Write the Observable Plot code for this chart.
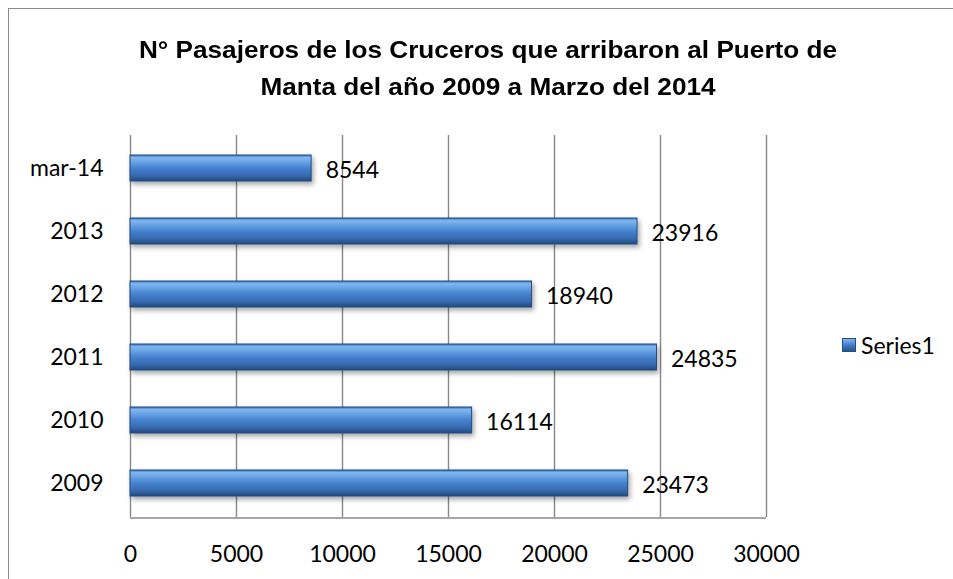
<!DOCTYPE html>
<html><head><meta charset="utf-8">
<script src="https://cdn.jsdelivr.net/npm/d3@7"></script>
<script src="https://cdn.jsdelivr.net/npm/@observablehq/plot@0.6"></script>
<style>
body{margin:0;background:#fff;}
#wrap{position:relative;width:953px;height:579px;overflow:hidden;font-family:Lato,"Open Sans",sans-serif;}
#border{position:absolute;left:8px;top:8px;width:960px;height:600px;border:1.5px solid #8c8c8c;box-sizing:border-box;}
#title{position:absolute;left:88px;width:800px;top:31px;text-align:center;font-family:"Liberation Sans",Arial,sans-serif;font-weight:bold;font-size:24px;line-height:37px;color:#000;transform:scaleX(1.09);transform-origin:400px 0;}
#legend{position:absolute;left:842px;top:331px;font-size:23px;font-family:Lato,sans-serif;display:flex;align-items:center;height:28px;}
#legend span.sw{display:inline-block;width:14px;height:14px;margin-right:5px;background:linear-gradient(180deg,#7fb6ee,#3f7ac4 55%,#27558f);border:1px solid #254e80;box-sizing:border-box;}
#chart{position:absolute;left:0;top:0;}
</style></head>
<body>
<div id="wrap">
<div id="border"></div>
<div id="chart"></div>
<div id="title">N° Pasajeros de los Cruceros que arribaron al Puerto de<br>Manta del año 2009 a Marzo del 2014</div>
<div id="legend"><span class="sw"></span>Series1</div>
</div>
<script>
const categories = ["mar-14","2013","2012","2011","2010","2009"];
const values = [8544, 23916, 18940, 24835, 16114, 23473];
const xTicks = [0,5000,10000,15000,20000,25000,30000];
const data = categories.map((c,i)=>({cat:c, value:values[i]}));

const plot = Plot.plot({
  width: 953, height: 579,
  marginLeft: 130, marginRight: 187, marginTop: 135, marginBottom: 62,
  style: {fontFamily: "Lato, 'Open Sans', sans-serif", fontSize: "23px", background: "transparent", overflow: "visible", color: "#000"},
  x: {domain: [0,30000], ticks: xTicks, label: null, tickSize: 0, tickPadding: 28, tickFormat: d=>String(d)},
  y: {domain: categories, label: null, tickSize: 0, tickPadding: 27, paddingInner: 0.58, paddingOuter: 0.29},
  marks: [
    Plot.ruleX(xTicks, {stroke: "#888888", strokeWidth: 1.4}),
    Plot.barX(data, {y: "cat", x: "value", fill: "url(#barGrad)", stroke: "#244d82", strokeWidth: 1}),
    Plot.text(data, {y: "cat", x: "value", text: d=>String(d.value), textAnchor: "start", dx: 14, dy: 2, fill: "#000", fontSize: 23})
  ]
});
const svg = d3.select(plot);
const defs = svg.insert("defs", ":first-child");
const g = defs.append("linearGradient").attr("id","barGrad").attr("x1",0).attr("y1",0).attr("x2",0).attr("y2",1);
[[0,"#3a72bb"],[0.1,"#7fb7ef"],[0.25,"#6aa5e6"],[0.5,"#4682cf"],[0.8,"#3669ae"],[1,"#22487b"]].forEach(([o,c])=>g.append("stop").attr("offset",o).attr("stop-color",c));
const f = defs.append("filter").attr("id","shadow").attr("x","-5%").attr("y","-30%").attr("width","115%").attr("height","180%");
f.append("feDropShadow").attr("dx",2).attr("dy",3).attr("stdDeviation",2.5).attr("flood-color","#000").attr("flood-opacity",0.35);
svg.selectAll("g[aria-label='bar'] rect").attr("filter","url(#shadow)");
const xs = plot.scale("x");
svg.append("line").attr("x1",xs.apply(0)).attr("x2",xs.apply(30000)).attr("y1",518).attr("y2",518).attr("stroke","#888888").attr("stroke-width",1.6);
document.getElementById("chart").appendChild(plot);
</script>
</body></html>
